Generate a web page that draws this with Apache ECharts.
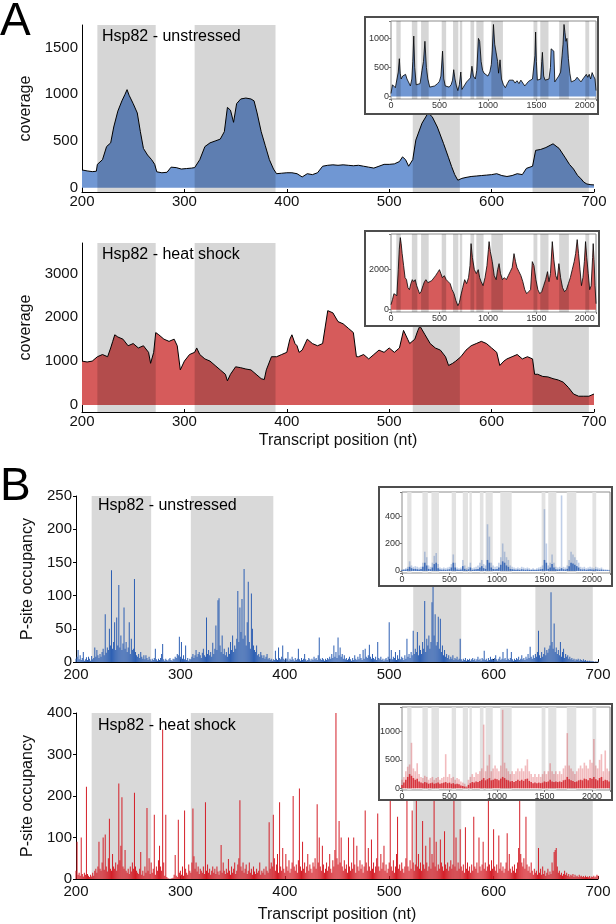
<!DOCTYPE html>
<html><head><meta charset="utf-8">
<script src="https://cdn.jsdelivr.net/npm/echarts@6/dist/echarts.min.js"></script>
<style>html,body{margin:0;padding:0;background:#fff}#c{width:616px;height:924px}</style>
</head><body><div id="c"></div>
<script>
// ---------------- data ----------------
const domainBands = [[215,272],[310,389],[523,569],[640,695]];
const insetBands = [[55,100],[215,272],[310,389],[523,569],[640,695],[710,735],[820,858],[880,955],[1035,1155],[1470,1510],[1540,1625],[1735,1835],[2005,2045]];

const mainTickLabels = ['200','300','400','500','600','700'];

// A: coverage, unstressed (200-700 nt)
const covUnstressedPos = [200,205,210,214,215,220,224,228,231,235,239,242,244,246,250,254,257,260,264,268,271,273,278,283,287,292,297,302,307,310,315,320,325,330,335,339,342,345,348,351,355,360,365,368,371,375,379,383,387,390,395,400,405,410,415,420,425,430,435,440,445,450,455,460,465,470,475,480,485,490,495,500,505,510,513,516,519,523,526,532,538,542,547,553,558,561,564,567,571,575,580,585,590,595,600,605,610,615,620,625,630,634,640,643,648,653,660,666,672,676,680,684,687,690,693,697,700];
const covUnstressedVal = [190,180,172,176,250,300,440,480,650,820,930,1000,1050,990,900,800,600,420,350,300,250,170,160,165,220,215,200,205,210,215,300,440,480,500,520,600,860,830,700,900,950,960,950,930,800,600,450,300,200,150,155,160,160,150,115,150,140,160,230,240,245,240,245,240,235,240,230,220,210,230,250,250,255,280,330,300,230,300,510,690,800,760,650,475,320,225,140,80,100,110,120,125,130,135,140,150,130,120,130,150,140,207,230,400,410,430,470,420,320,250,200,130,100,60,40,32,30];

// A: coverage, heat shock (200-700 nt)
const covHeatPos = [200,205,210,215,220,225,228,230,232,235,240,245,250,255,260,265,267,270,272,275,280,285,290,293,296,300,305,310,312,315,320,325,330,335,340,342,345,350,355,360,365,370,375,378,380,385,390,395,400,403,405,408,410,412,415,420,425,430,435,440,445,450,455,460,465,468,470,475,480,485,490,495,500,505,510,514,518,520,525,528,530,535,540,545,550,555,558,562,565,570,575,580,585,590,595,600,605,608,612,615,620,625,630,635,640,642,645,650,655,660,665,670,675,680,685,690,695,700];
const covHeatVal = [1000,980,1000,1100,1150,1100,1300,1450,1600,1550,1500,1350,1400,1300,1350,1200,950,1200,1650,1600,1500,1450,1500,1350,800,1000,1150,1200,1300,1150,1050,1000,900,800,700,550,700,870,850,820,800,700,600,580,800,1100,1100,1150,1200,1500,1600,1400,1350,1200,1250,1500,1400,1350,1400,2150,2100,1900,1850,1750,1650,1100,1100,1150,1050,1150,1250,1200,1300,1200,1300,1700,1500,1400,1500,1700,1800,1600,1400,1300,1250,1100,900,950,1000,1100,1250,1350,1400,1450,1400,1300,1200,900,1000,1050,1100,1150,1050,1100,1050,700,700,650,640,600,570,520,400,250,200,200,200,250];

// A insets: whole transcript coverage
const insetCovUnstressedPos = [0,15,30,45,60,75,86,95,105,120,135,150,165,180,200,215,225,235,245,260,280,300,320,335,350,365,380,400,420,450,480,500,515,532,545,560,580,600,620,635,647,660,675,690,705,720,732,750,780,800,820,835,850,870,885,902,915,930,945,960,980,1000,1020,1035,1045,1057,1070,1085,1100,1110,1125,1140,1160,1180,1200,1220,1240,1260,1280,1300,1320,1340,1360,1380,1400,1420,1440,1460,1475,1485,1492,1500,1510,1530,1545,1555,1562,1575,1590,1610,1630,1645,1652,1665,1680,1690,1710,1730,1750,1765,1775,1785,1795,1805,1815,1830,1845,1860,1880,1900,1920,1940,1960,1980,2000,2015,2030,2045,2060,2075,2090,2105,2115];
const insetCovUnstressedVal = [50,200,220,150,180,420,650,400,300,350,320,380,300,250,180,300,600,1040,500,200,180,220,450,600,950,500,300,160,150,180,220,260,350,780,300,180,150,160,200,280,460,300,180,100,200,420,120,150,250,280,320,520,350,300,450,1000,950,600,450,400,380,350,420,550,800,1240,900,750,600,400,630,300,200,150,220,280,250,280,230,270,220,280,230,180,200,260,250,300,280,700,1110,600,280,250,300,600,760,350,280,250,300,500,820,800,780,250,250,350,420,700,900,1240,1100,950,1000,650,400,250,220,280,330,300,250,300,320,380,330,380,300,410,350,300,100];
const insetCovHeatPos = [0,15,30,45,60,75,85,96,105,115,130,145,160,175,190,205,220,235,250,265,280,295,310,330,345,360,380,400,420,440,460,480,500,515,530,550,570,590,610,630,650,670,690,705,720,740,760,780,800,815,826,840,860,880,900,915,930,950,970,990,1005,1012,1025,1045,1065,1085,1100,1115,1130,1150,1170,1190,1210,1230,1250,1269,1285,1300,1320,1340,1360,1380,1400,1420,1440,1458,1475,1495,1515,1535,1555,1575,1595,1615,1630,1645,1664,1680,1700,1715,1732,1750,1770,1790,1810,1830,1850,1870,1890,1905,1921,1935,1950,1965,1980,1995,2007,2020,2035,2050,2065,2080,2086,2095,2105,2115];
const insetCovHeatVal = [250,500,800,750,700,2000,3000,3600,3300,2800,2200,1600,1500,1100,1000,1300,1500,1400,1500,1200,1000,800,900,1200,1400,1500,1350,1300,1450,1400,1700,1850,2000,1800,1600,1700,1500,1400,1300,1000,800,450,200,350,700,1100,1500,1300,1600,2200,3300,2600,2000,1800,2000,1600,1400,1200,1600,2200,3000,3400,2900,2400,1700,1500,2000,2300,1800,1500,1600,1500,1700,1900,2100,2800,2400,2100,1900,1700,1400,1000,800,900,1000,2400,2200,1500,1000,800,900,1200,1500,1900,1400,1800,3400,2500,1700,1500,2300,1600,1100,900,1000,1300,1600,2000,2400,2800,3500,2800,2000,1200,1600,2400,3400,2600,1800,1000,1200,2600,3300,2500,1200,300];

// B: P-site occupancy per nucleotide, positions 200..700
const pSiteStart = 200;
const pSiteUnstressed = [
5,8,18,4,10,3,6,15,2,4,7,3,8,5,2,9,4,6,22,8,
18,10,6,12,8,15,20,10,72,14,22,18,50,25,138,20,30,60,18,67,
25,116,22,40,18,28,82,20,30,15,22,60,12,35,18,20,125,15,10,8,
12,6,15,8,5,10,4,10,6,3,8,4,2,5,3,6,20,4,2,5,
3,6,12,27,4,2,5,3,2,4,6,3,2,5,4,8,6,12,10,38,
8,30,5,10,4,25,3,6,2,5,4,8,12,6,10,18,8,12,15,10,
6,14,20,10,8,67,12,18,10,15,8,29,12,20,55,18,93,96,25,15,
40,12,20,10,15,8,22,12,30,18,40,15,25,20,35,107,30,82,45,95,
35,140,40,25,60,121,30,20,103,50,25,18,15,25,10,12,8,15,10,6,
10,5,8,12,4,6,3,5,2,4,3,17,5,3,22,6,4,8,25,5,
3,6,4,15,2,5,3,8,4,2,6,3,5,20,4,2,6,3,5,12,
4,2,3,6,4,2,5,3,8,4,6,3,10,37,5,3,6,4,2,5,
3,6,4,8,5,12,6,25,8,15,6,37,10,22,8,12,5,10,4,6,
3,5,8,4,2,6,3,10,5,3,8,4,12,6,3,18,5,20,8,6,
10,26,8,5,12,6,4,8,3,30,6,4,8,3,5,2,4,6,3,8,
60,5,18,4,8,6,15,3,10,5,18,4,8,6,3,10,5,35,8,12,
6,15,10,47,12,20,15,45,10,25,18,12,30,20,92,15,35,25,40,20,
30,90,115,40,72,25,30,68,20,65,15,25,10,18,8,12,6,10,4,8,
5,10,3,6,4,8,3,5,35,4,2,5,3,6,2,4,3,5,2,4,
6,3,5,2,4,8,3,5,2,6,4,17,3,5,2,6,3,8,4,5,
3,6,10,4,2,5,8,3,5,15,4,6,3,20,5,3,6,15,4,2,
5,3,6,4,8,3,5,10,4,6,3,8,5,12,6,23,8,5,10,6,
12,8,15,47,10,6,15,8,12,22,10,18,14,20,25,105,30,20,58,15,
22,12,18,10,30,8,15,20,6,12,8,10,5,8,4,6,3,5,2,4,
3,5,2,4,3,2,4,2,3,1,2,1,2,1,1,1,1,0,1,0,
1];
const pSiteHeat = [
20,90,10,15,8,100,12,6,15,10,222,12,8,5,10,6,15,8,20,25,
15,30,90,25,20,40,100,22,107,30,18,50,145,25,20,60,30,25,40,20,
35,230,45,80,197,30,25,70,20,15,25,12,30,18,40,25,208,30,20,15,
12,25,65,10,20,8,30,15,171,20,50,12,40,15,25,155,10,30,20,45,
80,30,20,360,40,8,155,5,2,1,0,1,2,3,10,58,8,5,143,15,
20,10,30,8,165,25,15,10,35,20,15,40,170,55,25,40,18,30,12,25,
20,15,30,12,185,20,35,15,25,10,20,30,15,25,12,30,18,10,20,82,
15,40,20,12,25,15,48,20,10,30,15,25,40,12,20,35,50,190,30,20,
40,15,25,35,12,20,40,15,25,10,30,18,12,25,15,20,40,10,20,15,
25,10,30,20,15,137,25,40,30,155,50,20,35,60,15,185,30,20,75,25,
15,60,30,20,45,15,25,40,200,30,20,35,15,45,218,30,20,90,25,40,
15,30,60,20,35,25,15,40,30,50,25,180,40,100,30,20,80,35,15,25,
40,20,30,60,25,15,45,30,70,400,50,35,140,40,100,30,20,45,25,35,
15,100,30,20,40,25,100,35,15,80,30,20,45,25,35,15,30,165,40,20,
75,30,20,95,25,40,15,30,50,158,30,20,60,25,40,80,20,35,15,25,
40,230,30,20,45,15,30,60,150,25,35,20,40,25,15,30,50,240,30,20,
45,25,165,40,20,35,215,30,60,25,40,20,140,35,25,80,40,20,30,100,
25,60,40,245,30,90,20,35,25,95,40,30,20,115,35,25,40,20,30,45,
25,35,240,30,100,20,40,25,120,30,20,35,15,125,25,40,20,30,15,35,
20,150,30,25,40,15,100,30,20,35,90,25,40,20,30,230,35,20,45,25,
120,30,20,35,15,105,25,40,20,30,15,25,40,110,20,60,25,15,30,20,
35,15,25,40,75,245,60,40,30,50,25,150,35,20,30,15,40,20,10,25,
15,20,10,75,15,25,10,30,12,20,8,15,25,10,18,12,40,20,65,70,
75,30,15,20,10,15,8,12,20,10,15,8,12,6,10,8,12,5,10,6,
8,5,10,6,8,5,7,4,8,5,6,4,7,3,6,5,8,4,6,10,
8];

// B insets: 20-nt bins over the whole transcript (tallest spike, dense base)
const insetBinStep = 20;
const insetPSiteUnstressedPeak = [10,15,20,30,70,40,30,35,30,25,30,60,140,100,40,30,60,110,130,50,25,20,25,20,25,30,50,120,60,25,20,25,80,40,20,30,60,20,25,30,40,60,80,50,40,340,250,60,40,30,35,60,100,200,140,100,80,40,30,25,20,25,20,30,25,20,25,20,15,20,15,20,25,30,40,450,200,40,60,120,60,30,25,30,550,30,25,40,80,140,120,100,80,60,30,25,30,20,25,30,25,20,30,25,20,25,15,12,10,8];
const insetPSiteUnstressedBase = [5,8,10,15,30,20,15,15,12,10,15,30,60,40,15,12,25,50,60,20,10,8,10,8,10,12,25,60,25,10,8,10,35,15,8,12,25,8,10,12,15,25,35,20,15,80,60,25,15,12,15,25,45,70,60,40,30,15,12,10,8,10,8,12,10,8,10,8,6,8,6,8,10,12,15,80,60,15,25,50,25,12,10,12,20,12,10,15,35,60,55,45,35,25,12,10,12,8,10,12,10,8,12,10,8,10,6,5,5,4];
const insetPSiteHeatPeak = [150,200,300,380,420,800,350,300,440,250,200,180,220,200,150,180,200,150,180,200,150,180,200,600,200,250,180,200,150,180,160,120,100,80,40,150,200,250,200,280,250,300,350,1120,300,400,590,300,350,400,350,300,400,1380,450,350,300,250,300,250,300,350,300,350,300,400,510,300,250,200,250,200,250,200,250,300,250,300,440,300,250,300,250,300,250,350,400,970,400,350,300,250,300,350,400,350,450,400,350,500,450,865,400,350,500,600,300,665,350,300];
const insetPSiteHeatBase = [60,100,150,200,250,220,180,150,170,120,100,90,110,100,80,90,100,80,90,100,80,90,100,110,90,100,80,90,70,80,70,50,40,30,15,60,90,110,100,120,110,130,150,180,140,160,180,140,150,170,160,140,170,200,180,150,140,120,130,110,130,150,130,150,130,160,170,130,110,90,100,90,100,90,100,120,110,120,150,120,110,120,110,120,110,140,150,200,160,140,130,110,120,140,150,140,170,160,140,180,170,200,160,140,180,200,130,150,140,120];

// ---------------- helpers (build library options from the arrays) ----------------
const FONT = '"Liberation Sans", Arial, Helvetica, sans-serif';
const pairs = (xs, ys) => xs.map((x, i) => [x, ys[i]]);
const seqPairs = (start, step, ys) => ys.map((y, i) => [start + i * step, y]);
const bandData = list => list.map(b => [{ xAxis: b[0] }, { xAxis: b[1] }]);
const multipleOf = step => v => (Math.abs(v / step - Math.round(v / step)) < 1e-6 ? String(v) : '');

const BLUE_FILL = '#7097d3', RED_FILL = '#d65b5b';
const BLUE_BAR = '#2d5fb3', RED_BAR = '#d41f28';

function mainX(grid, margin, name, nameGap) {
  return {
    type: 'value', gridIndex: grid, min: 200, max: 700, interval: 100,
    axisLine: { show: true, onZero: false, lineStyle: { color: '#000', width: 1 } },
    axisTick: { show: true, inside: true, length: 3, lineStyle: { color: '#000' } },
    axisLabel: { fontSize: 15, color: '#111', fontFamily: FONT, margin: margin,
      formatter: v => mainTickLabels[Math.round((v - 200) / 100)] || '' },
    splitLine: { show: false },
    name: name || '', nameLocation: 'middle', nameGap: nameGap || 20,
    nameTextStyle: { fontSize: 16, color: '#111', fontFamily: FONT }
  };
}
function mainY(grid, min, max, step, name, nameGap, ticks) {
  return {
    type: 'value', gridIndex: grid, min: min, max: max, minInterval: step, maxInterval: step,
    axisLine: { show: true, onZero: false, lineStyle: { color: '#000', width: 1 } },
    axisTick: { show: !!ticks, length: 3, lineStyle: { color: '#000' } },
    axisLabel: { fontSize: 15, color: '#111', fontFamily: FONT, margin: 4, formatter: multipleOf(step) },
    splitLine: { show: false },
    name: name, nameLocation: 'middle', nameGap: nameGap, nameRotate: 90,
    nameTextStyle: { fontSize: 16, color: '#111', fontFamily: FONT }
  };
}
function insetX(grid, max) {
  return {
    type: 'value', gridIndex: grid, min: 0, max: max, minInterval: 500, maxInterval: 500, z: 59,
    axisLine: { show: false, onZero: false },
    axisTick: { show: true, length: 2, lineStyle: { color: '#777' } },
    axisLabel: { fontSize: 9, color: '#333', fontFamily: FONT, margin: 2, formatter: multipleOf(500) },
    splitLine: { show: false }
  };
}
function insetY(grid, min, max, step) {
  return {
    type: 'value', gridIndex: grid, min: min, max: max, minInterval: step, maxInterval: step, z: 59,
    axisLine: { show: false, onZero: false },
    axisTick: { show: true, length: 2, lineStyle: { color: '#777' } },
    axisLabel: { fontSize: 9, color: '#333', fontFamily: FONT, margin: 2, formatter: multipleOf(step) },
    splitLine: { show: false }
  };
}
const insetGrid = (l, t, w, h) => ({ left: l, top: t, width: w, height: h, show: true, z: 51,
  borderColor: '#8c8c8c', borderWidth: 1, backgroundColor: 'transparent' });

function coverageSeries(idx, data, fill, z, lw, bands) {
  return {
    type: 'line', xAxisIndex: idx, yAxisIndex: idx, data: data, symbol: 'none', z: z,
    lineStyle: { color: '#000', width: lw }, areaStyle: { color: fill, opacity: 1 },
    markArea: { silent: true, z: z + 2, itemStyle: { color: 'rgba(0,0,0,0.16)' }, data: bandData(bands) }
  };
}
function barSeries(idx, data, color, width, z, bands, bandColor) {
  const s = { type: 'bar', xAxisIndex: idx, yAxisIndex: idx, data: data, barWidth: width, barGap: '-100%',
    itemStyle: { color: color }, z: z, large: false };
  if (bands) s.markArea = { silent: true, z: z - 1, itemStyle: { color: bandColor }, data: bandData(bands) };
  return s;
}
function insetBox(x, y, w, h) {
  return { type: 'rect', z: 50, shape: { x: x, y: y, width: w, height: h },
    style: { fill: '#fff', stroke: '#4d4d4d', lineWidth: 2 } };
}
function label(text, x, y, size) {
  return { type: 'text', z: 45, x: x, y: y,
    style: { text: text, font: size + 'px ' + FONT, fill: '#000', align: 'left', verticalAlign: 'middle',
      textAlign: 'left', textVerticalAlign: 'middle' } };
}

const option = {
  animation: false,
  textStyle: { fontFamily: FONT },
  grid: [
    { left: 82, top: 25, width: 512, height: 167 },
    { left: 82, top: 243, width: 512, height: 169 },
    { left: 76, top: 496, width: 522, height: 166 },
    { left: 76, top: 713, width: 522, height: 166 },
    insetGrid(391, 21, 205, 78),
    insetGrid(391, 234, 205, 78),
    insetGrid(402, 492, 208, 81),
    insetGrid(402, 707, 208, 83)
  ],
  xAxis: [
    mainX(0, 2),
    mainX(1, 2, 'Transcript position (nt)', 21),
    mainX(2, 5),
    mainX(3, 5, 'Transcript position (nt)', 28),
    insetX(4, 2115), insetX(5, 2115), insetX(6, 2190), insetX(7, 2190)
  ],
  yAxis: [
    mainY(0, -46, 1742, 500, 'coverage', 45, false),
    mainY(1, -160, 3692, 1000, 'coverage', 45, false),
    mainY(2, 0, 250, 50, 'P-site occupancy', 38, true),
    mainY(3, 0, 400, 100, 'P-site occupancy', 38, true),
    insetY(4, -45, 1300, 500), insetY(5, -115, 3780, 2000), insetY(6, -15, 575, 200), insetY(7, -30, 1430, 500)
  ],
  series: [
    coverageSeries(0, pairs(covUnstressedPos, covUnstressedVal), BLUE_FILL, 2, 1, domainBands),
    coverageSeries(1, pairs(covHeatPos, covHeatVal), RED_FILL, 2, 1, domainBands),
    barSeries(2, seqPairs(pSiteStart, 1, pSiteUnstressed), BLUE_BAR, 1, 3, domainBands, '#d9d9d9'),
    barSeries(3, seqPairs(pSiteStart, 1, pSiteHeat), RED_BAR, 1, 3, domainBands, '#d9d9d9'),
    coverageSeries(4, pairs(insetCovUnstressedPos, insetCovUnstressedVal), BLUE_FILL, 56, 0.8, insetBands),
    coverageSeries(5, pairs(insetCovHeatPos, insetCovHeatVal), RED_FILL, 56, 0.8, insetBands),
    barSeries(6, seqPairs(0, insetBinStep, insetPSiteUnstressedPeak), 'rgba(45,95,179,0.3)', 1.6, 56, insetBands, '#e2e2e2'),
    barSeries(6, seqPairs(0, insetBinStep, insetPSiteUnstressedBase), 'rgba(45,95,179,0.85)', 1.6, 57),
    barSeries(7, seqPairs(0, insetBinStep, insetPSiteHeatPeak), 'rgba(212,31,40,0.3)', 1.6, 56, insetBands, '#e2e2e2'),
    barSeries(7, seqPairs(0, insetBinStep, insetPSiteHeatBase), 'rgba(212,31,40,0.85)', 1.6, 57)
  ],
  graphic: [
    label('A', 0, 22, 46),
    label('B', 0, 487, 46),
    label('Hsp82 - unstressed', 102, 37, 16),
    label('Hsp82 - heat shock', 102, 255, 16),
    label('Hsp82 - unstressed', 98, 506, 16),
    label('Hsp82 - heat shock', 98, 726, 16),
    insetBox(365, 17, 233, 97),
    insetBox(365, 231, 234, 95),
    insetBox(379, 487, 233, 99),
    insetBox(379, 704, 233, 96)
  ]
};

const chart = echarts.init(document.getElementById('c'), null, { renderer: 'canvas' });
chart.setOption(option);
</script>
</body></html>
